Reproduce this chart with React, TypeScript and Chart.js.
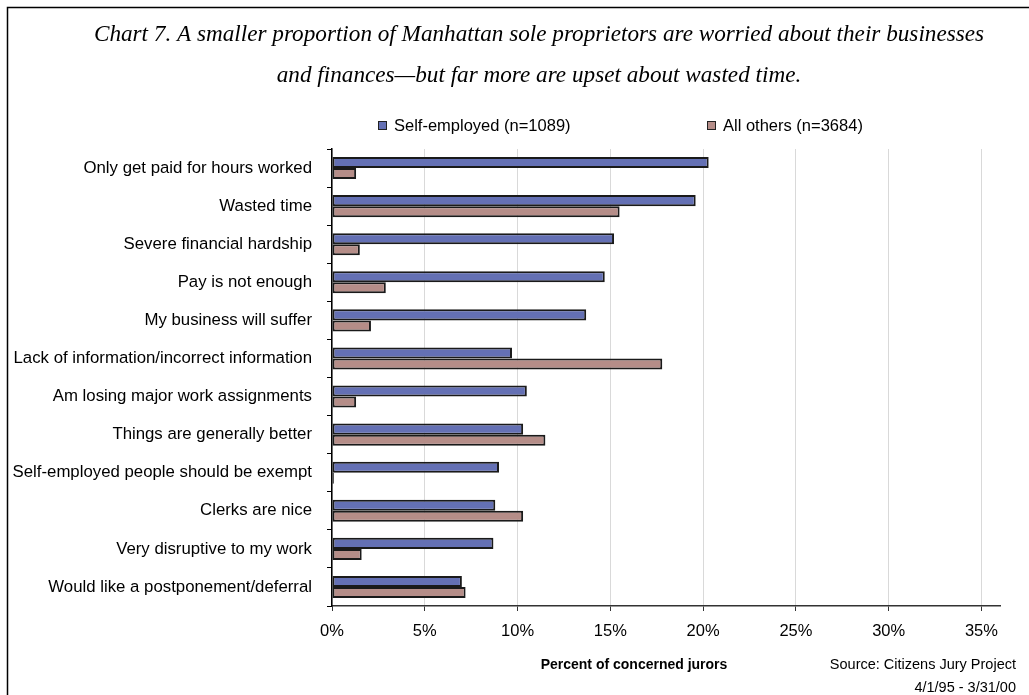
import React, { useEffect, useRef } from "react";
import { Chart, registerables } from "chart.js";

Chart.register(...registerables);

const categories = [
  "Only get paid for hours worked",
  "Wasted time",
  "Severe financial hardship",
  "Pay is not enough",
  "My business will suffer",
  "Lack of information/incorrect information",
  "Am losing major work assignments",
  "Things are generally better",
  "Self-employed people should be exempt",
  "Clerks are nice",
  "Very disruptive to my work",
  "Would like a postponement/deferral",
];

const selfEmployed = [20.3, 19.6, 15.2, 14.7, 13.7, 9.7, 10.5, 10.3, 9.0, 8.8, 8.7, 7.0];
const allOthers = [1.3, 15.5, 1.5, 2.9, 2.1, 17.8, 1.3, 11.5, 0.1, 10.3, 1.6, 7.2];

const seriesLabels = ["Self-employed (n=1089)", "All others (n=3684)"];
const xTicks = [0, 5, 10, 15, 20, 25, 30, 35];

const titleLines = [
  "Chart 7. A smaller proportion of Manhattan sole proprietors are worried about their businesses",
  "and finances\u2014but far more are upset about wasted time.",
];
const axisTitle = "Percent of concerned jurors";
const sourceLines = ["Source: Citizens Jury Project", "4/1/95 - 3/31/00"];

const BLUE = "#6470B4";
const MAUVE = "#B58D88";
const SANS = "'Liberation Sans', Arial, sans-serif";

const decorPlugin = {
  id: "decor",
  afterDraw(chart: any) {
    const ctx = chart.ctx as CanvasRenderingContext2D;
    ctx.save();
    // frame (left + top)
    ctx.strokeStyle = "#000";
    ctx.lineWidth = 1.5;
    ctx.beginPath();
    ctx.moveTo(7.5, 695);
    ctx.lineTo(7.5, 7.5);
    ctx.lineTo(1029, 7.5);
    ctx.stroke();

    // title
    ctx.fillStyle = "#000";
    ctx.textAlign = "center";
    ctx.textBaseline = "middle";
    ctx.font = "italic 23.2px 'Liberation Serif', 'Times New Roman', serif";
    ctx.fillText(titleLines[0], 539, 35);
    ctx.fillText(titleLines[1], 539, 76);

    // legend
    ctx.font = `16.5px ${SANS}`;
    ctx.textAlign = "left";
    const legendItems = [
      { x: 378, color: BLUE, label: seriesLabels[0] },
      { x: 707, color: MAUVE, label: seriesLabels[1] },
    ];
    legendItems.forEach((it) => {
      ctx.fillStyle = it.color;
      ctx.fillRect(it.x, 121, 8, 8);
      ctx.strokeStyle = "#222";
      ctx.lineWidth = 1;
      ctx.strokeRect(it.x + 0.5, 121.5, 8, 8);
      ctx.fillStyle = "#000";
      ctx.fillText(it.label, it.x + 16, 126);
    });

    // axis title
    ctx.font = `bold 14px ${SANS}`;
    ctx.textAlign = "center";
    ctx.fillText(axisTitle, 634, 665);

    // source
    ctx.font = `14.5px ${SANS}`;
    ctx.textAlign = "right";
    ctx.fillText(sourceLines[0], 1016, 665);
    ctx.fillText(sourceLines[1], 1016, 688);
    ctx.restore();
  },
};

export default function App() {
  const ref = useRef<HTMLCanvasElement | null>(null);

  useEffect(() => {
    document.body.style.margin = "0";
    const canvas = ref.current!;
    const chart = new Chart(canvas, {
      type: "bar",
      data: {
        labels: categories,
        datasets: [
          {
            label: seriesLabels[0],
            data: selfEmployed,
            backgroundColor: BLUE,
            borderColor: "#1a1a1a",
            borderWidth: 2,
            borderSkipped: false,
          },
          {
            label: seriesLabels[1],
            data: allOthers,
            backgroundColor: MAUVE,
            borderColor: "#1a1a1a",
            borderWidth: 2,
            borderSkipped: false,
          },
        ],
      },
      options: {
        indexAxis: "y",
        responsive: false,
        animation: false,
        maintainAspectRatio: false,
        datasets: {
          bar: { categoryPercentage: 0.58, barPercentage: 1 },
        },
        layout: { padding: { top: 149, right: 29, left: 0, bottom: 0 } },
        plugins: {
          legend: { display: false },
          title: { display: false },
          tooltip: { enabled: false },
        },
        scales: {
          x: {
            type: "linear",
            min: 0,
            max: 36,
            afterBuildTicks: (scale: any) => {
              scale.ticks = xTicks.map((v) => ({ value: v }));
            },
            afterFit: (scale: any) => {
              scale.height = 89;
            },
            ticks: {
              callback: (v: any) => `${v}%`,
              font: { family: SANS, size: 16.5 },
              color: "#000",
              padding: 11,
              maxRotation: 0,
            },
            grid: {
              color: "#d9d9d9",
              lineWidth: 1,
              tickColor: "#333",
              tickLength: 5,
            },
            border: { color: "#333", width: 1.5 },
          },
          y: {
            type: "category",
            afterFit: (scale: any) => {
              scale.width = 332;
            },
            ticks: {
              font: { family: SANS, size: 16.8 },
              color: "#000",
              padding: 15,
              autoSkip: false,
            },
            grid: {
              offset: true,
              drawOnChartArea: false,
              tickColor: "#000",
              tickLength: 5,
              lineWidth: 1,
            },
            border: { color: "#000", width: 1.5 },
          },
        },
      },
      plugins: [decorPlugin],
    });
    return () => chart.destroy();
  }, []);

  return (
    <div style={{ position: "absolute", left: 0, top: 0, width: 1029, height: 695, background: "#fff" }}>
      <canvas ref={ref} width={1029} height={695} style={{ display: "block", width: 1029, height: 695 }} />
    </div>
  );
}
